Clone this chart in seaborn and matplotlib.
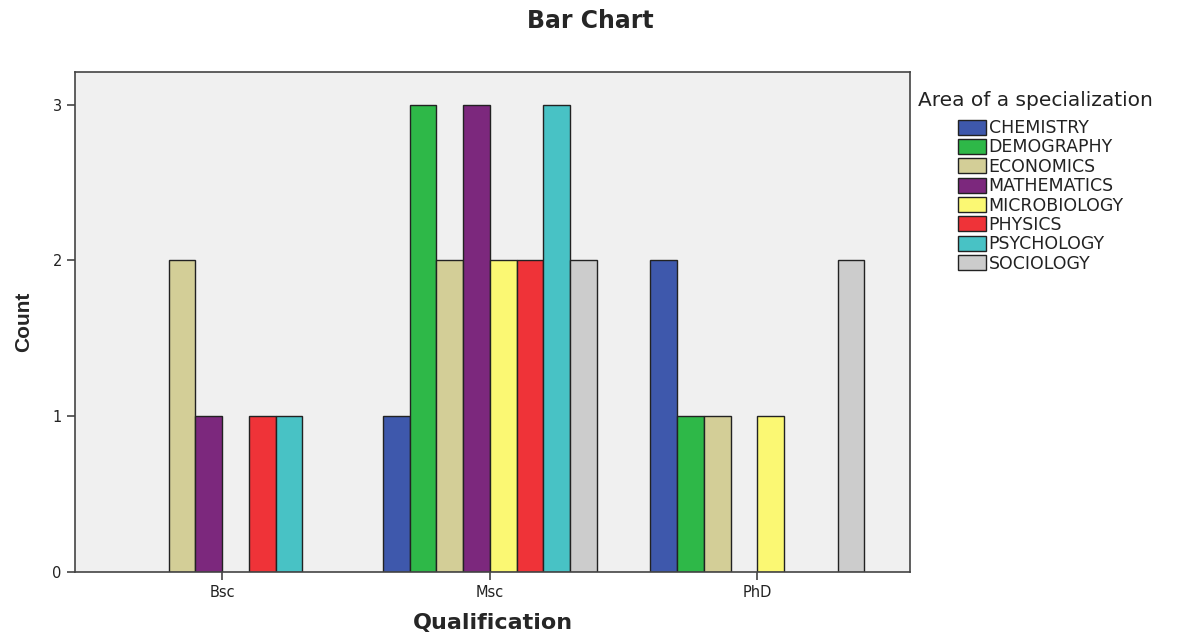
import matplotlib
matplotlib.use("Agg")
import matplotlib.pyplot as plt
import seaborn as sns
import pandas as pd
from matplotlib.patches import Patch

qualifications = ["Bsc", "Msc", "PhD"]
areas = ["CHEMISTRY", "DEMOGRAPHY", "ECONOMICS", "MATHEMATICS",
         "MICROBIOLOGY", "PHYSICS", "PSYCHOLOGY", "SOCIOLOGY"]
bsc_counts = [0, 0, 2, 1, 0, 1, 1, 0]
msc_counts = [1, 3, 2, 3, 2, 2, 3, 2]
phd_counts = [2, 1, 1, 0, 1, 0, 0, 2]
area_colors = ["#3E58AC", "#2EB848", "#D3CE97", "#7C287D",
               "#FBF873", "#EF3338", "#48C2C5", "#CCCCCC"]

rows = []
for q, counts in zip(qualifications, [bsc_counts, msc_counts, phd_counts]):
    for a, c in zip(areas, counts):
        rows.append({"Qualification": q, "Area": a, "Count": c})
df = pd.DataFrame(rows)

sns.set_style("ticks")
plt.rcParams['font.family'] = ['DejaVu Sans']

fig = plt.figure(figsize=(11.92, 6.33), dpi=100)
ax = fig.add_axes([0.0629, 0.0964, 0.7005, 0.7899])
ax.set_facecolor("#F0F0F0")

sns.barplot(data=df, x="Qualification", y="Count", hue="Area",
            order=qualifications, hue_order=areas, palette=area_colors,
            width=0.8, edgecolor="#222222", linewidth=1.0, saturation=1,
            errorbar=None, ax=ax, legend=False)

# hide zero-height bars
for p in ax.patches:
    if p.get_height() == 0:
        p.set_visible(False)

ax.set_xlim(-0.55, 2.57)
ax.set_ylim(0, 3.21)
ax.set_yticks([0, 1, 2, 3])
ax.tick_params(axis="both", direction="out", length=6, width=1.2,
               color="#444444", labelsize=10.5, labelcolor="#222222")
for s in ax.spines.values():
    s.set_visible(True)
    s.set_color("#444444")
    s.set_linewidth(1.2)

ax.set_xlabel("Qualification", fontsize=16, fontweight="bold", labelpad=9)
ax.set_ylabel("Count", fontsize=15, fontweight="bold", labelpad=14,
              family=['Liberation Sans Narrow', 'Liberation Sans', 'DejaVu Sans'])
fig.suptitle("Bar Chart", x=0.495, y=0.985, fontsize=17, fontweight="bold")

# legend: title flush left, entries indented
fig.text(0.770, 0.842, "Area of a specialization", fontsize=14.5,
         color="#222222", va="center", ha="left")
handles = [Patch(facecolor=c, edgecolor="#222222", linewidth=1.0) for c in area_colors]
leg = fig.legend(handles, areas, loc="upper left", bbox_to_anchor=(0.804, 0.812),
                 frameon=False, fontsize=12.5, borderpad=0, borderaxespad=0,
                 handlelength=1.6, handleheight=0.95, handletextpad=0.15,
                 labelspacing=0.08)
for t in leg.get_texts():
    t.set_color("#222222")

fig.savefig("out.png", dpi=100)
